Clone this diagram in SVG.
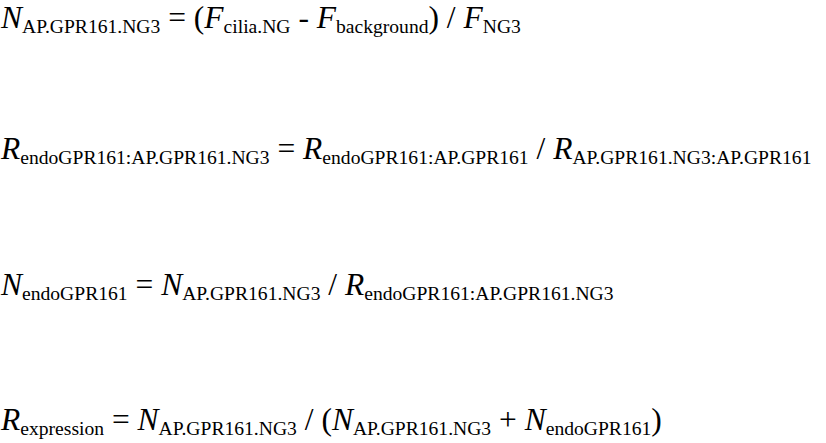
<svg xmlns="http://www.w3.org/2000/svg" width="826" height="443" viewBox="0 0 826 443">
<style>
text{font-family:"Liberation Serif","Times New Roman",serif;font-size:31.5px;fill:#000;white-space:pre}
.v{font-style:italic}
.s{font-size:19.6px}
</style>
<rect width="826" height="443" fill="#fff"/>
<g id="eq1"><text x="1" y="28" xml:space="preserve"><tspan class="v">N</tspan><tspan class="s" dy="5">AP.GPR161.NG3</tspan><tspan dy="-5"> = (</tspan><tspan class="v">F</tspan><tspan class="s" dy="5">cilia.NG</tspan><tspan dy="-5"> - </tspan><tspan class="v">F</tspan><tspan class="s" dy="5">background</tspan><tspan dy="-5">) / </tspan><tspan class="v">F</tspan><tspan class="s" dy="5">NG3</tspan></text></g>
<g id="eq2"><text x="1" y="159" xml:space="preserve"><tspan class="v">R</tspan><tspan class="s" dy="5">endoGPR161:AP.GPR161.NG3</tspan><tspan dy="-5"> = </tspan><tspan class="v">R</tspan><tspan class="s" dy="5">endoGPR161:AP.GPR161</tspan><tspan dy="-5"> / </tspan><tspan class="v">R</tspan><tspan class="s" dy="5">AP.GPR161.NG3:AP.GPR161</tspan></text></g>
<g id="eq3"><text x="1" y="295" xml:space="preserve"><tspan class="v">N</tspan><tspan class="s" dy="5">endoGPR161</tspan><tspan dy="-5"> = </tspan><tspan class="v">N</tspan><tspan class="s" dy="5">AP.GPR161.NG3</tspan><tspan dy="-5"> / </tspan><tspan class="v">R</tspan><tspan class="s" dy="5">endoGPR161:AP.GPR161.NG3</tspan></text></g>
<g id="eq4"><text x="1" y="430" xml:space="preserve"><tspan class="v">R</tspan><tspan class="s" dy="5">expression</tspan><tspan dy="-5"> = </tspan><tspan class="v">N</tspan><tspan class="s" dy="5">AP.GPR161.NG3</tspan><tspan dy="-5"> / (</tspan><tspan class="v">N</tspan><tspan class="s" dy="5">AP.GPR161.NG3</tspan><tspan dy="-5"> + </tspan><tspan class="v">N</tspan><tspan class="s" dy="5">endoGPR161</tspan><tspan dy="-5">)</tspan></text></g>
</svg>
